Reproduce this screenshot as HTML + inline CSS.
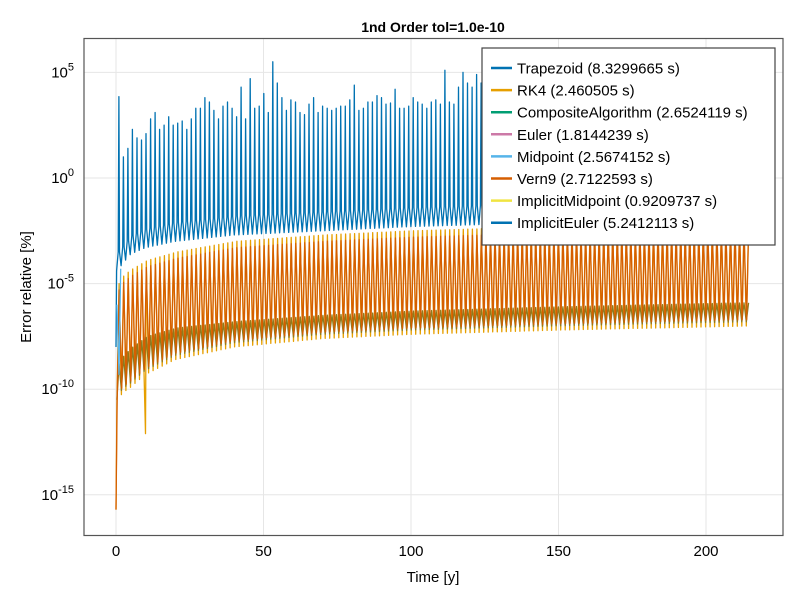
<!DOCTYPE html>
<html><head><meta charset="utf-8"><style>
html,body{margin:0;padding:0;background:#fff}
svg{display:block;font-family:"Liberation Sans",sans-serif}
</style></head><body>
<svg id="chart" width="800" height="600" xmlns="http://www.w3.org/2000/svg">
<rect width="800" height="600" fill="#fff"/>
<text x="433" y="32" text-anchor="middle" font-size="14" font-weight="bold">1nd Order tol=1.0e-10</text>
<g id="grid"></g>
<g id="plot"></g>
<rect x="84" y="38.5" width="699" height="497" fill="none" stroke="#555" stroke-width="1.2"/>
<g id="axes"></g>
<text x="433" y="582" text-anchor="middle" font-size="15">Time [y]</text>
<text transform="translate(31,287) rotate(-90)" text-anchor="middle" font-size="15">Error relative [%]</text>
<g id="legend"></g>
</svg>
<script>
const xTicks=[0,50,100,150,200];
const yTicks=[5,0,-5,-10,-15];
const period=1.535;
// log10 peak values of Trapezoid spikes per cycle
const bluePeaks=[3.85,1.0,1.4,2.3,1.9,1.8,2.1,2.8,3.1,2.3,2.5,2.9,2.5,2.6,2.7,2.3,2.8,3.3,3.3,3.8,3.6,3.2,2.8,3.4,3.6,3.3,2.9,4.3,2.8,4.7,3.3,3.4,4.0,3.1,5.5,4.5,3.8,3.2,3.7,3.6,3.1,3.0,3.5,3.8,3.1,3.4,3.3,3.2,3.3,3.4,3.4,3.7,4.4,3.2,3.3,3.6,3.6,3.9,3.8,3.5,
3.55,4.2,3.3,3.3,3.4,3.8,3.6,3.5,3.3,3.6,3.7,3.5,5.1,3.6,3.5,4.3,5.0,4.5,4.3,4.9,4.5,4.8,4.0,3.9,4.2,
4.1,3.8,4.4,4.0,3.7,4.5,4.2,3.9,4.3,4.0,4.6,3.8,4.1,4.4,3.9,4.2,4.0,4.5,3.8,4.1,4.3,3.9,4.2,4.6,4.0,3.8,4.3,4.1,3.9,4.4,4.2,4.0,3.8,4.5,4.1,3.9,4.2,4.3,4.0,3.8,4.4,4.1,4.2,3.9,4.0,4.3,4.1,3.8,4.2,4.0,4.4,3.9,4.1,4.2,4.0];
// envelope anchors (years) and log10 values
const anchorT=[0.5,2,5,10,20,40,70,100,150,216];
const blueLow=[-4.4,-4.1,-3.6,-3.3,-3.0,-2.7,-2.5,-2.3,-2.1,-1.9];
const rk4High=[-5.0,-4.6,-4.3,-3.9,-3.5,-3.0,-2.7,-2.5,-2.3,-2.2];
const rk4Low=[-10.7,-10.2,-9.9,-9.3,-8.6,-8.0,-7.6,-7.4,-7.2,-7.0];
const vern9High=[-5.3,-4.9,-4.6,-4.2,-3.8,-3.3,-3.0,-2.8,-2.6,-2.5];
const mixHigh=[-8.8,-8.4,-8.0,-7.5,-7.1,-6.8,-6.5,-6.3,-6.1,-5.9];
const startLog=[-8.0,-15.7];   // Trapezoid start, Vern9/RK4 start
const rk4Outlier=[10,-12.1];
const legendNames=["Trapezoid (8.3299665 s)","RK4 (2.460505 s)","CompositeAlgorithm (2.6524119 s)","Euler (1.8144239 s)","Midpoint (2.5674152 s)","Vern9 (2.7122593 s)","ImplicitMidpoint (0.9209737 s)","ImplicitEuler (5.2412113 s)"];
const legendColors=["#0072b2","#e69f00","#009e73","#cc79a7","#56b4e9","#d55e00","#f0e442","#0072b2"];

const NS="http://www.w3.org/2000/svg";
const X=t=>116+t*2.95;
const Y=v=>178-v*21.12;
function env(a,t){if(t<=anchorT[0])return a[0];for(let i=1;i<anchorT.length;i++){if(t<=anchorT[i]){const f=(t-anchorT[i-1])/(anchorT[i]-anchorT[i-1]);return a[i-1]+f*(a[i]-a[i-1]);}}return a[a.length-1];}
function mk(tag,attrs,parent){const e=document.createElementNS(NS,tag);for(const k in attrs)e.setAttribute(k,attrs[k]);parent.appendChild(e);return e;}

const grid=document.getElementById('grid'),axes=document.getElementById('axes'),plot=document.getElementById('plot');
xTicks.forEach(t=>{
  const l=mk('line',{x1:X(t),x2:X(t),y1:38,y2:535,stroke:'#e6e6e6'},grid);
  
  
  const tx=mk('text',{x:X(t),y:556,'text-anchor':'middle','font-size':15},axes);
  tx.textContent=t;
  
  
});
yTicks.forEach(v=>{
  const l=mk('line',{x1:84,x2:783,y1:Y(v),y2:Y(v),stroke:'#e6e6e6'},grid);
  
  
  const tx=mk('text',{x:74,y:Y(v)+5,'text-anchor':'end','font-size':15},axes);
  tx.innerHTML='10<tspan dy="-7" font-size="11">'+v+'</tspan>';
  
  
});

function line(pts,color,name,w){
  const p=mk('polyline',{points:pts.map(p=>X(p[0]).toFixed(1)+','+Y(p[1]).toFixed(1)).join(' '),fill:'none',stroke:color,'stroke-width':w||1.3,'stroke-linejoin':'round'},plot);
  
  
}
const N=bluePeaks.length;
let rk=[[0,startLog[1]]];
for(let i=0;i<N;i++){const t=0.3+i*period;rk.push([t,env(rk4Low,t)]);rk.push([t+period/2,env(rk4High,t)]);}
rk.push([rk4Outlier[0],rk4Outlier[1]]);
rk.sort((a,b)=>a[0]-b[0]);
line(rk,'#e69f00','rk4-series');
let mx=[];
for(let i=0;i<N;i++){const t=0.3+i*period;mx.push([t,env(rk4Low,t)+0.2]);mx.push([t+period/2,env(mixHigh,t)]);}
line(mx,'#8f7a1e','composite-series');
let vn=[[0,startLog[1]]];
for(let i=0;i<N;i++){const t=0.3+i*period;vn.push([t+0.1,env(rk4Low,t)+0.3]);vn.push([t+period/2,env(vern9High,t)]);}
line(vn,'#d55e00','vern9-series');
let bl=[[0,startLog[0]]];
for(let i=0;i<N;i++){const t=0.2+i*period;const lo=env(blueLow,t);bl.push([t,lo]);bl.push([t+period*0.35,lo+0.9]);bl.push([t+period*0.5,bluePeaks[i]]);bl.push([t+period*0.65,lo+0.9]);}
line(bl,'#0072b2','trapezoid-series');
line([[0.3,-6],[1,-9.3],[1.6,-4.3]],'#56b4e9','midpoint-series');

const lg=document.getElementById('legend');
const box=mk('rect',{x:482,y:48,width:293,height:197,fill:'#fff',stroke:'#444','stroke-width':1.2},lg);


legendNames.forEach((n,i)=>{
  const y=68+i*22.1;
  const l=mk('line',{x1:491,x2:512,y1:y,y2:y,stroke:legendColors[i],'stroke-width':2.5},lg);
  
  
  const t=mk('text',{x:517,y:y+5.5,'font-size':15},lg);
  t.textContent=n;
  
  
});
</script>
</body></html>
